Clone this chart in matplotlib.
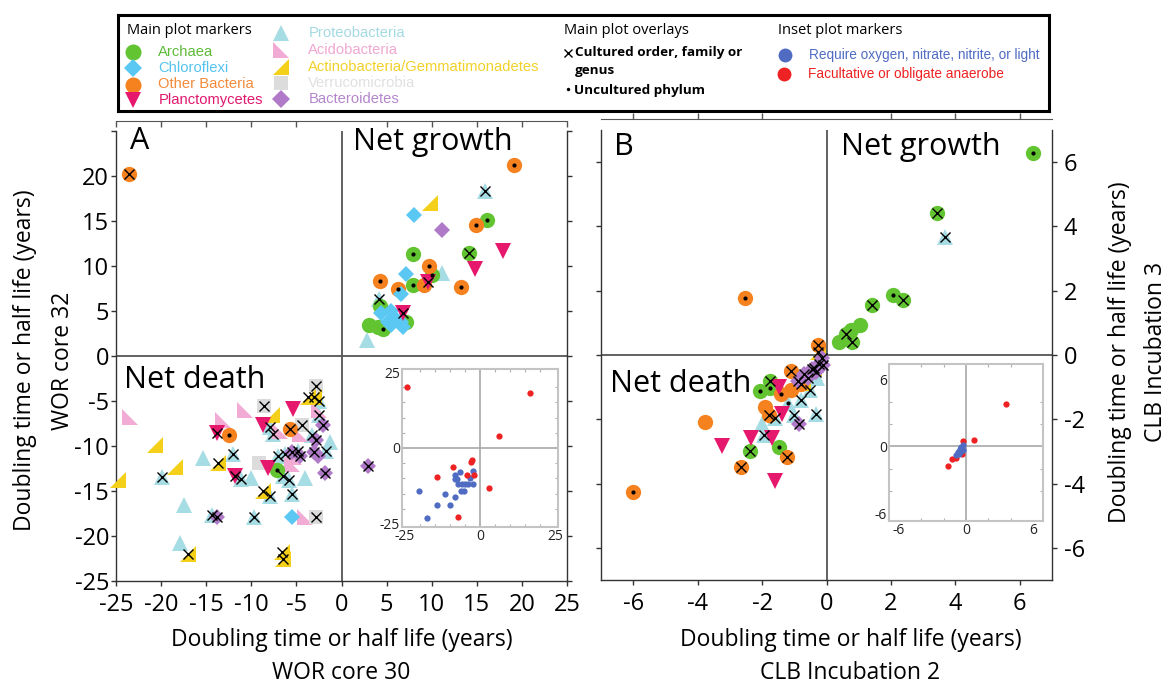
import matplotlib
matplotlib.use('Agg')
import matplotlib.pyplot as plt
from matplotlib.path import Path

plt.rcParams['font.family'] = ['Open Sans', 'DejaVu Sans']
plt.rcParams['axes.unicode_minus'] = False

# ---------------- data: panel A (WOR core 30 vs core 32) ----------------
A_archaea_x = [16.1, 7.9, 14.1, 10.0, 7.9, 4.3, 3.1, 4.1, 4.6, 7.2, -7.2]
A_archaea_y = [15.1, 11.3, 11.4, 9.0, 7.9, 5.6, 3.4, 3.2, 3.0, 3.8, -12.7]
A_archaea_tag = ['.', '.', 'x', '.', '.', '', '', '', '.', '', '.']

A_other_x = [-23.6, 19.1, 14.9, 9.7, 4.3, 6.3, 9.2, 13.3, -12.5, -5.7]
A_other_y = [20.2, 21.2, 14.6, 10.0, 8.3, 7.5, 7.9, 7.7, -8.8, -8.1]
A_other_tag = ['x', '.', '.', '.', '.', '.', '', '.', '.', 'x']

A_chloro_x = [8.0, 7.2, 6.6, 4.4, 5.5, 5.9, 5.1, 6.6, 6.8, 5.5, -5.5]
A_chloro_y = [15.7, 9.1, 6.9, 4.8, 5.0, 4.2, 3.8, 3.8, 3.2, 3.4, -17.9]
A_chloro_tag = [''] * 11

A_plancto_x = [17.9, 14.8, 9.6, 6.8, -5.4, -13.8, -11.8, -8.7, -8.1]
A_plancto_y = [11.7, 9.7, 8.2, 4.8, -5.9, -8.5, -13.3, -7.7, -12.4]
A_plancto_tag = ['', '', 'x', 'x', '', 'x', 'x', '', '']

A_proteo_x = [15.9, 11.1, 4.2, 2.8, -2.5, -2.5, -7.9, -7.6, -12.0, -15.3, -1.7, -1.3,
              -11.1, -10.0, -4.1, -19.9, -17.5, -9.7, -17.9, -5.8, -6.3, -4.8, -5.5,
              -14.4, -6.5, -7.9, -3.3, -7.0]
A_proteo_y = [18.3, 9.2, 6.3, 1.8, -5.0, -6.5, -7.9, -8.7, -10.9, -11.3, -10.5, -9.5,
              -13.7, -13.5, -13.5, -13.4, -16.5, -17.9, -20.8, -13.8, -10.9, -10.5, -15.3,
              -17.7, -13.3, -15.5, -8.8, -11.1]
A_proteo_tag = ['x', '', 'x', '', 'x', 'x', 'x', 'x', 'x', '', 'x', '',
                'x', '', '', 'x', '', 'x', '', 'x', 'x', 'x', 'x',
                'x', 'x', 'x', 'x', 'x']

A_acido_x = [-23.4, -10.7, -13.1, -4.6, -5.3, -2.5, -4.1, -5.5, -6.8]
A_acido_y = [-6.8, -6.0, -7.1, -8.7, -11.2, -6.0, -17.9, -12.0, -8.3]
A_acido_tag = [''] * 9

A_actino_x = [9.8, -3.7, -3.1, -7.7, -20.7, -13.7, -18.5, -24.8, -8.7, -17.0, -6.6, -6.5]
A_actino_y = [17.0, -4.6, -4.5, -6.5, -9.9, -11.9, -12.3, -13.8, -15.0, -22.0, -21.8, -22.5]
A_actino_tag = ['', 'x', 'x', '', '', 'x', '', '', 'x', 'x', 'x', 'x']

A_verruco_x = [-2.8, -8.6, -4.4, -9.2, -2.8]
A_verruco_y = [-3.3, -5.5, -7.7, -11.9, -17.9]
A_verruco_tag = ['x', 'x', 'x', '', 'x']

A_bactero_x = [11.1, -2.1, -2.8, -3.1, -2.6, -1.8, 2.9, -13.8, -5.5, -4.6]
A_bactero_y = [14.0, -7.7, -9.3, -10.7, -11.1, -13.0, -12.2, -17.9, -10.7, -11.1]
A_bactero_tag = ['', 'x', 'x', 'x', '', 'x', 'x', 'x', 'x', 'x']

# inset A: oxygen requirement
A_aer_x = [-20.5, -11.6, -14.4, -10.0, -17.7, -8.3, -8.3, -6.6, -7.7, -7.2, -6.1, -5.0,
           -3.9, -2.2, -2.2, -3.5, -6.3, -5.5, -8.3]
A_aer_y = [-14.2, -15.0, -18.9, -18.9, -23.1, -16.2, -8.9, -7.9, -10.1, -11.8, -11.8, -11.8,
           -11.8, -11.8, -7.5, -9.8, -14.2, -14.2, -10.1]
A_ana_x = [-24.3, 16.6, 6.3, -8.9, -14.2, -7.2, 3.1, -3.1, -2.7, -4.4, -2.0]
A_ana_y = [20.1, 18.0, 3.8, -6.3, -9.5, -22.8, -13.2, -4.5, -4.1, -8.9, -8.9]

# ---------------- data: panel B (CLB incubation 2 vs 3) ----------------
B_archaea_x = [6.4, 3.43, 2.05, 2.39, 1.41, 1.03, 0.75, 0.61, 0.78, 0.40, -2.07, -1.76, -2.39, -1.47, -1.76]
B_archaea_y = [6.3, 4.41, 1.86, 1.72, 1.57, 0.92, 0.79, 0.64, 0.40, 0.40, -1.13, -0.82, -2.98, -2.86, -1.04]
B_archaea_tag = ['.', 'x', '.', 'x', 'x', '', '', 'x', 'x', '', '.', 'x', 'x', '.', '.']

B_other_x = [-2.53, -0.26, -6.0, -3.76, -2.64, -1.23, -1.90, -1.80, -1.40, -1.11, -1.09, -0.80]
B_other_y = [1.76, 0.31, -4.27, -2.09, -3.47, -3.16, -1.62, -1.86, -1.21, -0.49, -1.10, -0.90]
B_other_tag = ['.', 'x', '.', '', 'x', 'x', '', 'x', '.', 'x', '', 'x']

B_plancto_x = [-3.25, -2.33, -1.70, -1.59, -1.38, -1.49]
B_plancto_y = [-2.82, -2.58, -2.58, -3.93, -1.82, -0.99]
B_plancto_tag = [''] * 6

B_proteo_x = [3.68, -1.95, -1.61, -2.01, -1.00, -0.80, -0.32, -1.21, -0.30, -0.50]
B_proteo_y = [3.67, -2.49, -1.96, -2.16, -1.86, -1.40, -1.84, -1.49, -0.70, -1.10]
B_proteo_tag = ['x', 'x', 'x', '', 'x', 'x', 'x', '.', '', 'x']

B_actino_x = [-0.26, -0.72, -0.40]
B_actino_y = [0.09, -0.88, -0.40]
B_actino_tag = ['x', '', 'x']

B_bactero_x = [-0.86, -0.69, -0.46, -0.23, -0.57, -0.34, -0.11, -0.90, -0.15]
B_bactero_y = [-2.16, -0.60, -0.43, -0.27, -0.71, -0.54, -0.32, -0.80, -0.10]
B_bactero_tag = ['x'] * 9

B_aer_x = [-0.73, -0.56, -0.43, -0.30, -0.23, -0.63, -0.46, -0.89]
B_aer_y = [-0.51, -0.26, -0.06, 0.13, -0.32, -0.67, -0.42, -0.74]
B_ana_x = [3.58, 0.76, -1.62, -1.23, -0.89, -0.30, -0.40]
B_ana_y = [3.81, 0.54, -1.79, -1.15, -1.06, 0.45, -0.64]

# ---------------- categories ----------------
tri_sw = Path([(-1, 1), (-1, -1), (1, -1), (-1, 1)],
              [Path.MOVETO, Path.LINETO, Path.LINETO, Path.CLOSEPOLY])
tri_se = Path([(1, 1), (1, -1), (-1, -1), (1, 1)],
              [Path.MOVETO, Path.LINETO, Path.LINETO, Path.CLOSEPOLY])

# name: (label, marker colour, text colour, marker, size)
cats = {
    'archaea': ('Archaea', '#62C431', '#5DBB3A', 'o', 11),
    'chloro': ('Chloroflexi', '#5AC8F2', '#55C3EE', 'D', 8.5),
    'other': ('Other Bacteria', '#F5821F', '#F48A3A', 'o', 11),
    'plancto': ('Planctomycetes', '#E6186E', '#E0186E', 'v', 11),
    'proteo': ('Proteobacteria', '#A6DCE4', '#A4DAE3', '^', 11),
    'acido': ('Acidobacteria', '#F2ABD5', '#F0A8D2', tri_sw, 11),
    'actino': ('Actinobacteria/Gemmatimonadetes', '#F5D01A', '#F2D12A', tri_se, 11),
    'verruco': ('Verrucomicrobia', '#DCDCDC', '#E0E0E0', 's', 10),
    'bactero': ('Bacteroidetes', '#B07AC8', '#B486CC', 'D', 8.5),
}
draw_order = ['proteo', 'acido', 'verruco', 'actino', 'archaea', 'other', 'chloro', 'bactero', 'plancto']

panel_A = {
    'archaea': (A_archaea_x, A_archaea_y, A_archaea_tag),
    'other': (A_other_x, A_other_y, A_other_tag),
    'chloro': (A_chloro_x, A_chloro_y, A_chloro_tag),
    'plancto': (A_plancto_x, A_plancto_y, A_plancto_tag),
    'proteo': (A_proteo_x, A_proteo_y, A_proteo_tag),
    'acido': (A_acido_x, A_acido_y, A_acido_tag),
    'actino': (A_actino_x, A_actino_y, A_actino_tag),
    'verruco': (A_verruco_x, A_verruco_y, A_verruco_tag),
    'bactero': (A_bactero_x, A_bactero_y, A_bactero_tag),
}
panel_B = {
    'archaea': (B_archaea_x, B_archaea_y, B_archaea_tag),
    'other': (B_other_x, B_other_y, B_other_tag),
    'plancto': (B_plancto_x, B_plancto_y, B_plancto_tag),
    'proteo': (B_proteo_x, B_proteo_y, B_proteo_tag),
    'actino': (B_actino_x, B_actino_y, B_actino_tag),
    'bactero': (B_bactero_x, B_bactero_y, B_bactero_tag),
}

BLUE = '#4F6BC2'
RED = '#EE2222'
SPINE = '#333333'

W, H = 1172, 686
fig = plt.figure(figsize=(W / 100, H / 100), dpi=100)


def fbox(x0, y0, x1, y1):
    # pixel box (top-left origin) -> figure fraction rect
    return [x0 / W, 1 - y1 / H, (x1 - x0) / W, (y1 - y0) / H]


def draw_points(ax, panel):
    for key in draw_order:
        if key not in panel:
            continue
        xs, ys, tags = panel[key]
        lab, col, tcol, mk, ms = cats[key]
        ax.plot(xs, ys, ls='none', marker=mk, ms=ms, mfc=col, mec=col, mew=0,
                zorder=3, clip_on=False)
    # overlays on top of everything
    for key in draw_order:
        if key not in panel:
            continue
        xs, ys, tags = panel[key]
        cx = [x for x, t in zip(xs, tags) if t == 'x']
        cy = [y for y, t in zip(ys, tags) if t == 'x']
        ux = [x for x, t in zip(xs, tags) if t == '.']
        uy = [y for y, t in zip(ys, tags) if t == '.']
        ax.plot(cx, cy, ls='none', marker='x', ms=7, mec='black', mew=1.0, zorder=5, clip_on=False)
        ax.plot(ux, uy, ls='none', marker='o', ms=3, mfc='black', mec='black', mew=0, zorder=5, clip_on=False)


def style_main(ax, lim, ticks):
    ax.set_xlim(-lim, lim)
    ax.set_ylim(-lim, lim)
    ax.spines['top'].set_visible(False)
    for s in ['left', 'right', 'bottom']:
        ax.spines[s].set_color(SPINE)
        ax.spines[s].set_linewidth(1.0)
    ax.axhline(0, color='#555555', lw=1.3, zorder=1)
    ax.axvline(0, color='#555555', lw=1.3, zorder=1)
    ax.set_xticks(ticks)
    ax.tick_params(axis='both', direction='out', length=3.5, width=1, color=SPINE,
                   labelsize=17, labelcolor='black')


# ---------------- panel A ----------------
axA = fig.add_axes(fbox(116, 131, 567, 581))
tA = list(range(-25, 26, 5))
style_main(axA, 25, tA)
axA.set_yticks(tA, [str(t) if t != 25 else '' for t in tA])
axA.tick_params(axis='y', right=True, pad=1.5)
axA.tick_params(axis='x', pad=5)
draw_points(axA, panel_A)
secA = axA.secondary_xaxis(1 + 9.5 / 450)
secA.set_xticks([t for t in tA if t != 0], [''] * 10)
secA.tick_params(direction='in', length=4, width=1, color='#555555')
secA.spines['top'].set_color('#555555')

axA.text(0.031, 0.96, 'A', transform=axA.transAxes, fontsize=22)
axA.text(0.526, 0.957, 'Net growth', transform=axA.transAxes, fontsize=22)
axA.text(0.018, 0.429, 'Net death', transform=axA.transAxes, fontsize=22)

# ---------------- panel B ----------------
axB = fig.add_axes(fbox(601, 130, 1052, 580))
tB = list(range(-6, 7, 2))
style_main(axB, 7, tB)
axB.set_yticks(tB)
axB.tick_params(axis='y', right=True, labelright=True, labelleft=False, pad=5)
axB.tick_params(axis='x', pad=5)
draw_points(axB, panel_B)
secB = axB.secondary_xaxis(1 + 10.7 / 450)
secB.set_xticks([t for t in tB if t != 0], [''] * 6)
secB.tick_params(direction='out', length=4, width=1, color='#555555')
secB.spines['top'].set_color('#555555')

axB.text(0.029, 0.945, 'B', transform=axB.transAxes, fontsize=22)
axB.text(0.532, 0.945, 'Net growth', transform=axB.transAxes, fontsize=22)
axB.text(0.021, 0.418, 'Net death', transform=axB.transAxes, fontsize=22)


# ---------------- insets ----------------
def style_inset(ax, xl, yl, ticks, minor):
    ax.set_xlim(*xl)
    ax.set_ylim(*yl)
    ax.set_facecolor('white')
    for s in ax.spines.values():
        s.set_color('#C4C4C4')
        s.set_linewidth(1.5)
    ax.axhline(0, color='#A8A8A8', lw=1.2, zorder=1)
    ax.axvline(0, color='#A8A8A8', lw=1.2, zorder=1)
    ax.set_xticks(ticks)
    ax.set_yticks(ticks)
    ax.set_xticks(minor, minor=True)
    ax.set_yticks(minor, minor=True)
    ax.tick_params(which='major', length=0, labelsize=10, pad=1.5, labelcolor='#222222')
    ax.tick_params(which='minor', direction='in', length=2.5, width=0.8, color='#B0B0B0',
                   top=True, right=True)


inA = fig.add_axes(fbox(402, 369, 558, 527))
style_inset(inA, (-26, 26), (-26, 26), [-25, 0, 25], list(range(-25, 26, 5)))
inA.plot(A_aer_x, A_aer_y, ls='none', marker='o', ms=4.5, mfc=BLUE, mew=0, zorder=3)
inA.plot(A_ana_x, A_ana_y, ls='none', marker='o', ms=4.5, mfc=RED, mew=0, zorder=3)

inB = fig.add_axes(fbox(889, 364, 1043, 521))
style_inset(inB, (-6.9, 6.9), (-6.7, 7.4), [-6, 0, 6], list(range(-6, 7, 2)))
inB.plot(B_ana_x, B_ana_y, ls='none', marker='o', ms=4.5, mfc=RED, mew=0, zorder=3)
inB.plot(B_aer_x, B_aer_y, ls='none', marker='o', ms=4.5, mfc=BLUE, mew=0, zorder=3)

# ---------------- axis titles ----------------
lab = 'Doubling time or half life (years)'
fig.text(341.5 / W, 1 - 640 / H, lab, ha='center', va='center', fontsize=16.5)
fig.text(341.5 / W, 1 - 673 / H, 'WOR core 30', ha='center', va='center', fontsize=16.5)
fig.text(851 / W, 1 - 640 / H, lab, ha='center', va='center', fontsize=16.5)
fig.text(850 / W, 1 - 673 / H, 'CLB Incubation 2', ha='center', va='center', fontsize=16.5)
fig.text(25 / W, 1 - 360 / H, lab, ha='center', va='center', rotation=90, fontsize=16.5)
fig.text(63 / W, 1 - 361 / H, 'WOR core 32', ha='center', va='center', rotation=90, fontsize=16.5)
fig.text(1120 / W, 1 - 352 / H, lab, ha='center', va='center', rotation=90, fontsize=16.5)
fig.text(1156 / W, 1 - 352 / H, 'CLB Incubation 3', ha='center', va='center', rotation=90, fontsize=16.5)

# ---------------- legend box ----------------
lax = fig.add_axes(fbox(118, 14.5, 1049, 110.7))
lax.set_xlim(118, 1049)
lax.set_ylim(110.7, 14.5)
lax.set_xticks([])
lax.set_yticks([])
for s in lax.spines.values():
    s.set_color('black')
    s.set_linewidth(2.2)

col1 = ['archaea', 'chloro', 'other', 'plancto']
col2 = ['proteo', 'acido', 'actino', 'verruco', 'bactero']
col1_y = [51.7, 68, 84.5, 100.3]
col2_y = [33, 50, 67, 82.7, 99.3]

lax.text(127, 30, 'Main plot markers', fontsize=10.5, va='center')
for key, yy in zip(col1, col1_y):
    lab_, col, tcol, mk, ms = cats[key]
    lax.plot([132.7], [yy], marker=mk, ms=ms * 1.05, mfc=col, mew=0, ls='none')
    lax.text(158.3, yy, lab_, color=tcol, fontsize=10.6, va='center', family='Liberation Sans')
for key, yy in zip(col2, col2_y):
    lab_, col, tcol, mk, ms = cats[key]
    lax.plot([280.7], [yy], marker=mk, ms=ms * 1.05, mfc=col, mew=0, ls='none')
    lax.text(308.3, yy, lab_, color=tcol, fontsize=10.6, va='center', family='Liberation Sans')

lax.text(564, 30, 'Main plot overlays', fontsize=10.5, va='center')
lax.plot([568], [52.7], marker='x', ms=6, mec='black', mew=1.0, ls='none')
lax.text(575, 52.7, 'Cultured order, family or', fontsize=9.7, fontweight='bold', va='center')
lax.text(575, 70.7, 'genus', fontsize=9.7, fontweight='bold', va='center')
lax.plot([567.5], [89.3], marker='o', ms=2.5, mfc='black', mew=0, ls='none')
lax.text(574, 90.7, 'Uncultured phylum', fontsize=9.7, fontweight='bold', va='center')

lax.text(778.3, 30.7, 'Inset plot markers', fontsize=10.5, va='center')
lax.plot([785], [55], marker='o', ms=10, mfc=BLUE, mew=0, ls='none')
lax.text(809.3, 55, 'Require oxygen, nitrate, nitrite, or light', color=BLUE, fontsize=9.8,
         va='center', family='Liberation Sans')
lax.plot([784], [74], marker='o', ms=10, mfc=RED, mew=0, ls='none')
lax.text(808.3, 74, 'Facultative or obligate anaerobe', color=RED, fontsize=9.8,
         va='center', family='Liberation Sans')

fig.savefig('out.png', dpi=100)
